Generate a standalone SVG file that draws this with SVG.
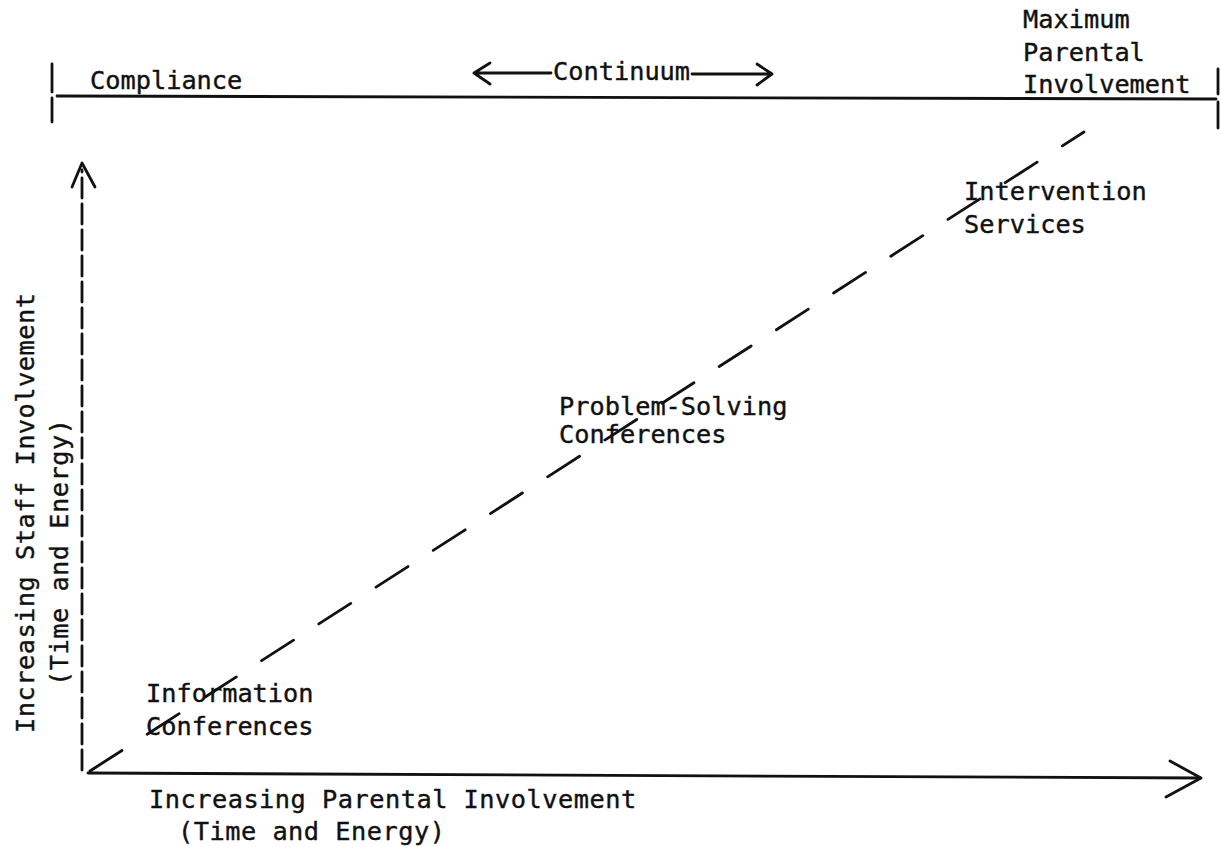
<svg xmlns="http://www.w3.org/2000/svg" width="1221" height="847" viewBox="0 0 1221 847">
  <style>
    .t { font-family: "DejaVu Sans Mono", "Liberation Mono", monospace; font-size: 25.3px; fill: #111; stroke: #111; stroke-width: 0.4px; }
    .ax { letter-spacing: 0.5px; }
    .ln { stroke: #111; stroke-width: 2.8; fill: none; stroke-linecap: round; stroke-linejoin: round; }
  </style>
  <rect width="1221" height="847" fill="#fff"/>

  <!-- continuum bar across the top -->
  <g id="continuum-bar">
    <path class="ln" d="M57 96 L1216 99"/>
    <path class="ln" d="M52 64 L52 92 M52 98 L52 122"/>
    <path class="ln" d="M1218 69 L1218 94 M1218 102 L1218 128"/>
    <text class="t" x="90" y="89">Compliance</text>
    <text class="t" x="553" y="80">Continuum</text>
    <path class="ln" d="M474 73 L551 73 M490 63 L474 73 L490 84"/>
    <path class="ln" d="M692 74 L771 74 M757 64 L772 74 L757 85"/>
    <text class="t" x="1023" y="28">Maximum</text>
    <text class="t" x="1023" y="61">Parental</text>
    <text class="t" x="1023" y="93">Involvement</text>
  </g>

  <!-- axes and the diagonal trend line -->
  <g id="connectors">
    <path class="ln" d="M82 770 L82 170" stroke-dasharray="20 6"/>
    <path class="ln" d="M72 187 L82 163 L95 187"/>
    <path class="ln" d="M88 773 L1200 778"/>
    <path class="ln" d="M1170 761 L1201 778 L1166 797"/>
    <path class="ln" d="M90 771 L1084 132" stroke-dasharray="38 30"/>
  </g>

  <g id="axis-y-label">
    <text class="t ax" transform="translate(34 733) rotate(-90)">Increasing Staff Involvement</text>
    <text class="t ax" transform="translate(68 686) rotate(-90)">(Time and Energy)</text>
  </g>

  <g id="axis-x-label">
    <text class="t ax" x="149" y="808">Increasing Parental Involvement</text>
    <text class="t ax" x="178" y="840">(Time and Energy)</text>
  </g>

  <g id="node-information">
    <text class="t" x="146" y="702">Information</text>
    <text class="t" x="146" y="735">Conferences</text>
  </g>

  <g id="node-problem-solving">
    <text class="t" x="559" y="415">Problem-Solving</text>
    <text class="t" x="559" y="443">Conferences</text>
  </g>

  <g id="node-intervention">
    <text class="t" x="964" y="200">Intervention</text>
    <text class="t" x="964" y="233">Services</text>
  </g>
</svg>
